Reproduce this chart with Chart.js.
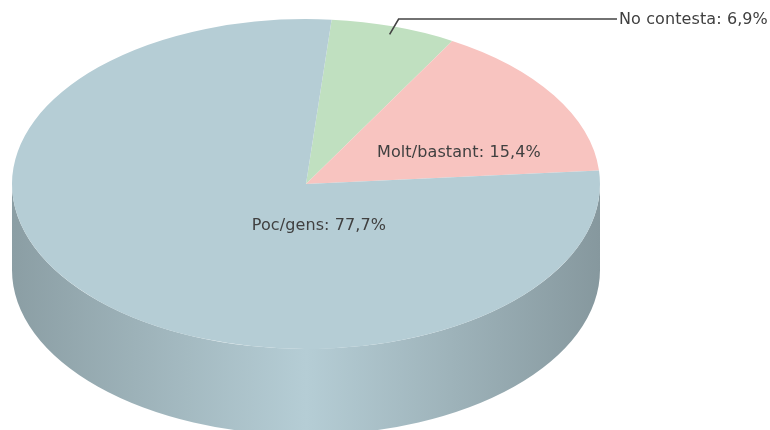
<!DOCTYPE html>
<html>
<head>
<meta charset="utf-8">
<script src="https://cdn.jsdelivr.net/npm/chart.js@4/dist/chart.umd.min.js"></script>
<style>
  html, body { margin: 0; padding: 0; background: #fff; }
  #wrap { width: 770px; height: 430px; }
</style>
</head>
<body>
<div id="wrap"><canvas id="pie" width="770" height="430"></canvas></div>
<script>
// dades de l'enquesta
const categories = ['No contesta', 'Molt/bastant', 'Poc/gens'];
const values = [6.9, 15.4, 77.7];
const valueLabels = ['6,9%', '15,4%', '77,7%'];
const colors = ['#c0e0c0', '#f8c4c0', '#b5cdd5'];

// aspecte del pastis 3D
const stretch = 294 / 165;   // l'el·lipse es mes ampla que alta
const depth = 86;            // gruix del lateral
const font = '16px "DejaVu Sans", Verdana, sans-serif';
// posicio dels textos interiors, en fraccio del radi (null = etiqueta externa)
const labelPlace = [null, [0.52, -0.19], [0.044, 0.255]];

function shade(hex, f) {
  const n = parseInt(hex.slice(1), 16);
  const r = Math.round(((n >> 16) & 255) * f);
  const g = Math.round(((n >> 8) & 255) * f);
  const b = Math.round((n & 255) * f);
  return `rgb(${r},${g},${b})`;
}

const pie3d = {
  id: 'pie3d',
  beforeDatasetsDraw(chart) {
    const ctx = chart.ctx;
    const arcs = chart.getDatasetMeta(0).data;
    const { x, y, outerRadius: r } = arcs[0].getProps(['x', 'y', 'outerRadius'], true);
    const rx = r * stretch;

    // lateral: nomes la meitat de davant (0..PI en angles del canvas)
    ctx.save();
    arcs.forEach((arc, i) => {
      const p = arc.getProps(['startAngle', 'endAngle'], true);
      [-2, 0, 2].forEach(k => {
        const a = Math.max(p.startAngle + k * Math.PI, 0);
        const b = Math.min(p.endAngle + k * Math.PI, Math.PI);
        if (b <= a) return;
        const grad = ctx.createLinearGradient(x - rx, 0, x + rx, 0);
        grad.addColorStop(0, shade(colors[i], 0.77));
        grad.addColorStop(0.5, colors[i]);
        grad.addColorStop(1, shade(colors[i], 0.74));
        ctx.beginPath();
        ctx.ellipse(x, y, rx, r, 0, a, b);
        ctx.lineTo(x + rx * Math.cos(b), y + r * Math.sin(b) + depth);
        ctx.ellipse(x, y + depth, rx, r, 0, b, a, true);
        ctx.closePath();
        ctx.fillStyle = grad;
        ctx.fill();
      });
    });
    ctx.restore();

    // la cara de dalt s'aplana en el·lipse
    ctx.save();
    ctx.translate(x, y);
    ctx.scale(stretch, 1);
    ctx.translate(-x, -y);
  },
  afterDatasetsDraw(chart) {
    chart.ctx.restore();
  },
  afterDraw(chart) {
    const ctx = chart.ctx;
    const arcs = chart.getDatasetMeta(0).data;
    const { x, y, outerRadius: r } = arcs[0].getProps(['x', 'y', 'outerRadius'], true);
    const rx = r * stretch;
    ctx.save();
    ctx.font = font;
    ctx.fillStyle = '#404040';
    ctx.textBaseline = 'middle';
    if ('letterSpacing' in ctx) ctx.letterSpacing = '0.1px';
    arcs.forEach((arc, i) => {
      const text = categories[i] + ': ' + valueLabels[i];
      const place = labelPlace[i];
      if (place) {
        ctx.textAlign = 'center';
        ctx.fillText(text, x + place[0] * rx, y + place[1] * r);
        return;
      }
      // etiqueta externa amb linia guia
      const p = arc.getProps(['startAngle', 'endAngle'], true);
      const mid = (p.startAngle + p.endAngle) / 2;
      const sx = x + Math.cos(mid) * rx * 0.95;
      const sy = y + Math.sin(mid) * r * 0.95;
      const ey = y - r;
      const ex = x + rx + 17;
      ctx.beginPath();
      ctx.moveTo(sx, sy);
      ctx.lineTo(sx + 9, ey);
      ctx.lineTo(ex, ey);
      ctx.strokeStyle = '#444';
      ctx.lineWidth = 1.6;
      ctx.stroke();
      ctx.textAlign = 'left';
      ctx.fillText(text, ex + 2, ey + 1);
    });
    ctx.restore();
  }
};

const ctx = document.getElementById('pie').getContext('2d');
const chart = new Chart(ctx, {
  type: 'pie',
  data: {
    labels: categories,
    datasets: [{
      data: values,
      backgroundColor: colors,
      borderWidth: 0,
      hoverOffset: 0,
      clip: false
    }]
  },
  options: {
    responsive: false,
    animation: false,
    rotation: 5,
    layout: { padding: { left: 141, right: 299, top: 19, bottom: 81 } },
    plugins: {
      legend: { display: false },
      tooltip: { enabled: false }
    }
  },
  plugins: [pie3d]
});
</script>
</body>
</html>
